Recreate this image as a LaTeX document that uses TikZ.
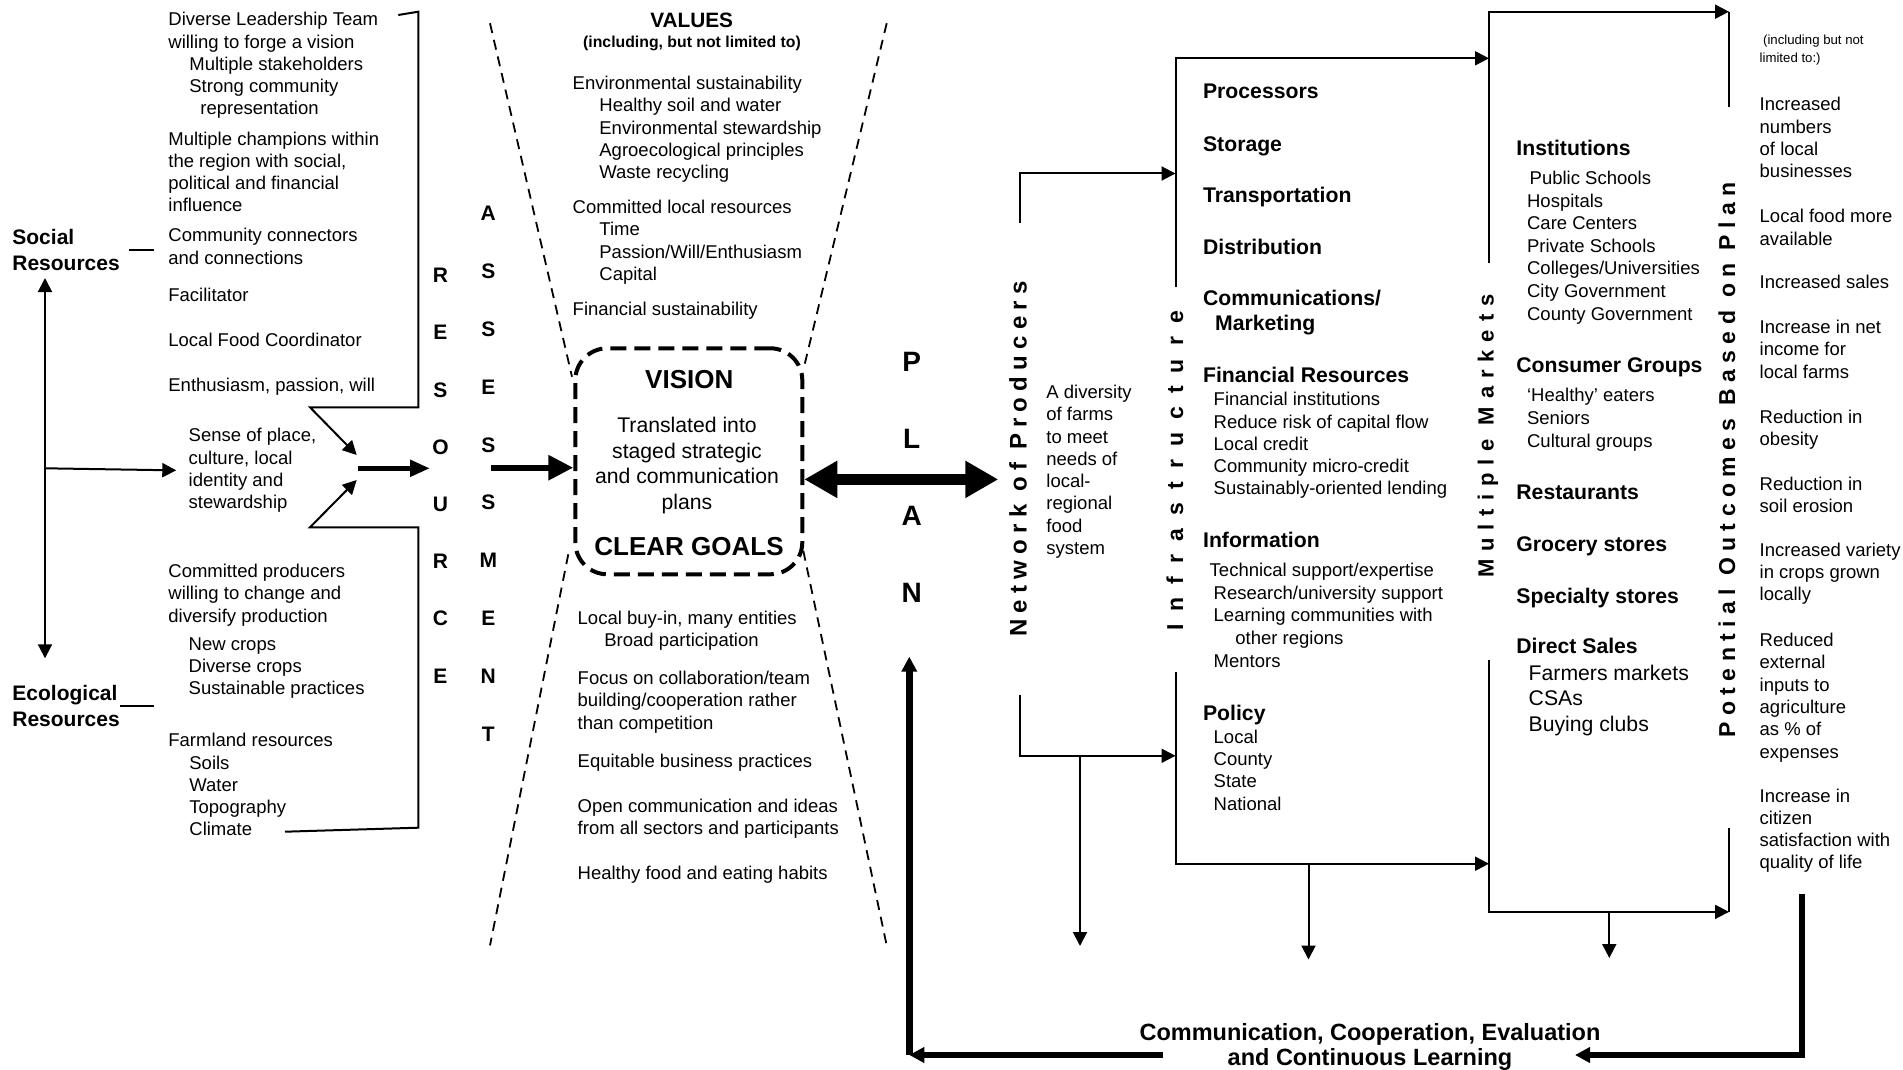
\documentclass[tikz,border=0pt]{standalone}
\usepackage{fontspec}
\setmainfont{Liberation Sans}
\usetikzlibrary{arrows.meta}

\begin{document}
\begin{tikzpicture}[x=0.5pt,y=-0.5pt,
  txt/.style={anchor=north west,inner sep=0pt,align=left,font=\fontsize{9.25}{11.15}\selectfont},
  hd/.style={txt,font=\bfseries\fontsize{10.6}{12.8}\selectfont},
  side/.style={txt,font=\bfseries\fontsize{10.5}{13}\selectfont},
  lett/.style={inner sep=0pt,font=\bfseries\fontsize{10.5}{12}\selectfont},
  vert/.style={rotate=90,inner sep=0pt},
  arr/.style={line width=1pt,-{Triangle[length=7pt,width=7pt]}},
  thickarr/.style={line width=2.8pt,-{Triangle[length=10pt,width=8pt]}},
  bigarr/.style={line width=3pt,-{Triangle[length=12.5pt,width=12pt]}},
  dblarr/.style={line width=5.5pt,{Triangle[length=16.5pt,width=17.5pt]}-{Triangle[length=16.5pt,width=17.5pt]}},
  fbarr/.style={line width=3.3pt,-{Triangle[length=7.5pt,width=7.5pt]}},
  funnel/.style={line width=0.9pt,dash pattern=on 5pt off 3.5pt},
  visbox/.style={draw,line width=2pt,dash pattern=on 8pt off 4pt,rounded corners=16pt,inner sep=0pt}]
\fill[white] (0,0) rectangle (1903,1070);
\useasboundingbox (0,0) rectangle (1903,1070);

% social and ecological resources
\node[side] (soc) at (12,228.6) {Social\\Resources};
\node[side] (eco) at (12,685.2) {Ecological\\Resources};
\draw[line width=1pt] ([xshift=4.5pt]soc.east) -- ++(25,0);
\draw[line width=1pt] (eco.east) -- ++(34,0);

\node[txt] (lead) at (168,11.9) {Diverse Leadership Team\\willing to forge a vision\\\hspace*{10.5pt}Multiple stakeholders\\\hspace*{10.5pt}Strong community\\\hspace*{16pt}representation};
\node[txt] (champ) at (168,131.2) {Multiple champions within\\the region with social,\\political and financial\\influence};
\node[txt] (conn) at (168,227.9) {Community connectors\\and connections};
\node[txt] (facil) at (168,287.2) {Facilitator};
\node[txt] (coord) at (168,332.9) {Local Food Coordinator};
\node[txt] (enth) at (168,377.9) {Enthusiasm, passion, will};
\node[txt] (sense) at (188.3,427.9) {Sense of place,\\culture, local\\identity and\\stewardship};
\node[txt] (prod) at (168,563.6) {Committed producers\\willing to change and\\diversify production};
\node[txt] (crops) at (188.3,637.2) {New crops\\Diverse crops\\Sustainable practices};
\node[txt] (farm) at (168,732.9) {Farmland resources\\\hspace*{10.5pt}Soils\\\hspace*{10.5pt}Water\\\hspace*{10.5pt}Topography\\\hspace*{10.5pt}Climate};

\coordinate (hub) at (45,468.3);
\coordinate (socTip) at (45,278);
\coordinate (ecoTip) at (45,658.3);
\draw[arr] (hub) -- (socTip);
\draw[arr] (hub) -- (ecoTip);
\draw[arr] (hub) -- ([xshift=-6pt]sense.west);

% bracket into the resource column
\coordinate (brA) at (398.3,15);
\coordinate (brB) at (418.3,11.7);
\coordinate (brC) at (418.3,407.3);
\coordinate (brD) at (310,407.3);
\coordinate (brE) at (356.7,455);
\coordinate (brF) at (285,831.7);
\coordinate (brG) at (418.3,827.7);
\coordinate (brH) at (418.3,527.3);
\coordinate (brI) at (310,527.3);
\coordinate (brJ) at (356.7,480);
\draw[arr] (brA) -- (brB) -- (brC) -- (brD) -- (brE);
\draw[arr] (brF) -- (brG) -- (brH) -- (brI) -- (brJ);
\coordinate (resIn) at (358.3,468.3);
\coordinate (resOut) at (430,468.3);
\draw[thickarr] (resIn) -- (resOut);

\foreach \l [count=\i from 0] in {R,E,S,O,U,R,C,E}
  \node[lett] (res\i) at (440.5,275.5+57.2*\i) {\l};
\foreach \l [count=\i from 0] in {A,S,S,E,S,S,M,E,N,T}
  \node[lett] (asm\i) at (488.3,213.6+57.8*\i) {\l};

% values funnel and vision
\node[inner sep=0pt,font=\bfseries\fontsize{10.4}{12}\selectfont] (values) at (691.7,20) {VALUES};
\node[inner sep=0pt,font=\bfseries\fontsize{7.9}{9}\selectfont] (incl) at (692,43.3) {(including, but not limited to)};
\node[txt] (env) at (572.3,75.6) {Environmental sustainability\\\hspace*{13.35pt}Healthy soil and water\\\hspace*{13.35pt}Environmental stewardship\\\hspace*{13.35pt}Agroecological principles\\\hspace*{13.35pt}Waste recycling};
\node[txt] (local) at (572.3,199.6) {Committed local resources\\\hspace*{13.35pt}Time\\\hspace*{13.35pt}Passion/Will/Enthusiasm\\\hspace*{13.35pt}Capital};
\node[txt] (finsus) at (572.3,301.2) {Financial sustainability};

\node[visbox,minimum width=113.5pt,minimum height=113pt] (vision) at (688.8,461.3) {};
\node[inner sep=0pt,font=\bfseries\fontsize{13}{14}\selectfont] (vishead) at (689.3,380) {VISION};
\node[anchor=north,inner sep=0pt,align=center,font=\fontsize{10.6}{12.7}\selectfont] (vistext) at (687,417.1) {Translated into\\staged strategic\\and communication\\plans};
\node[inner sep=0pt,font=\bfseries\fontsize{13}{14}\selectfont] (goals) at (689,546.3) {CLEAR GOALS};

\coordinate (fTL) at (490,23.3);
\coordinate (fL1) at (572,376.7);
\coordinate (fL2) at (568.3,554.3);
\coordinate (fBL) at (490,945.4);
\coordinate (fTR) at (886.7,23.3);
\coordinate (fR1) at (803.3,370);
\coordinate (fR2) at (803.3,550.8);
\coordinate (fBR) at (886.7,945.4);
\draw[funnel] (fTL) -- (fL1);
\draw[funnel] (fL2) -- (fBL);
\draw[funnel] (fTR) -- (fR1);
\draw[funnel] (fR2) -- (fBR);

\node[txt] (buyin) at (577.3,610.4) {Local buy-in, many entities\\\hspace*{13.35pt}Broad participation};
\node[txt] (focus) at (577.3,670.7) {Focus on collaboration/team\\building/cooperation rather\\than competition};
\node[txt] (equit) at (577.3,753.5) {Equitable business practices};
\node[txt] (open) at (577.3,798.7) {Open communication and ideas\\from all sectors and participants};
\node[txt] (food) at (577.3,865.7) {Healthy food and eating habits};

\coordinate (asmOut) at (490.7,467.7);
\draw[bigarr] (asmOut) -- (asmOut -| vision.west);

% plan
\foreach \l [count=\i from 0] in {P,L,A,N}
  \node[inner sep=0pt,font=\bfseries\fontsize{14}{16}\selectfont] (plan\i) at (911.7,362+77*\i) {\l};
\coordinate (dblR) at (998.3,479.4);
\draw[dblarr] (dblR -| vision.east) -- (dblR);

% network of producers
\node[vert,font=\bfseries\fontsize{12}{13}\selectfont\addfontfeature{LetterSpace=26}] (net) at (1018,459) {Network of Producers};
\node[txt] (farms) at (1046,384.6) {A diversity\\of farms\\to meet\\needs of\\local-\\regional\\food\\system};

% infrastructure
\node[vert,font=\bfseries\fontsize{11.5}{12}\selectfont\addfontfeature{LetterSpace=57}] (inf) at (1175,471) {Infrastructure};
\node[hd] (proc) at (1202.7,83.5) {Processors};
\node[hd] (stor) at (1202.7,135.8) {Storage};
\node[hd] (trans) at (1202.7,186.8) {Transportation};
\node[hd] (distr) at (1202.7,238.5) {Distribution};
\node[hd] (commk) at (1202.7,289.5) {Communications/\\\hspace*{6pt}Marketing};
\node[hd] (finres) at (1202.7,366.8) {Financial Resources};
\node[txt] (finitems) at (1213.3,391.9) {Financial institutions\\Reduce risk of capital flow\\Local credit\\Community micro-credit\\Sustainably-oriented lending};
\node[hd] (info) at (1202.7,532) {Information};
\node[txt,font=\fontsize{9.25}{11.4}\selectfont] (infoitems) at (1209.3,562.4) {Technical support/expertise\\\hspace*{2pt}Research/university support\\\hspace*{2pt}Learning communities with\\\hspace*{12.85pt}other regions\\\hspace*{2pt}Mentors};
\node[hd] (policy) at (1202.7,704.3) {Policy};
\node[txt] (politems) at (1213.3,729.5) {Local\\County\\State\\National};

% multiple markets
\node[vert,font=\bfseries\fontsize{11}{12}\selectfont\addfontfeature{LetterSpace=36}] (mkt) at (1488,436) {Multiple Markets};
\node[hd] (inst) at (1516,140.1) {Institutions};
\node[txt,font=\fontsize{9.25}{11.3}\selectfont] (institems) at (1526.7,170.6) {\hspace*{1.3pt}Public Schools\\Hospitals\\Care Centers\\Private Schools\\Colleges/Universities\\City Government\\County Government};
\node[hd] (cons) at (1516,357.5) {Consumer Groups};
\node[txt,font=\fontsize{9.25}{11.4}\selectfont] (consitems) at (1526.7,387.9) {‘Healthy’ eaters\\Seniors\\Cultural groups};
\node[hd] (rest) at (1516,485) {Restaurants};
\node[hd] (groc) at (1516,536.5) {Grocery stores};
\node[hd] (spec) at (1516,587.7) {Specialty stores};
\node[hd] (direct) at (1516,637.3) {Direct Sales};
\node[txt,font=\fontsize{10.6}{12.8}\selectfont] (directitems) at (1528.3,664.4) {Farmers markets\\CSAs\\Buying clubs};

% potential outcomes
\node[vert,font=\bfseries\fontsize{11.5}{12}\selectfont\addfontfeature{LetterSpace=28}] (pot) at (1727,460) {Potential Outcomes Based on Plan};
\node[txt,font=\fontsize{6.6}{9}\selectfont] (incl2) at (1759.3,34.2) {\hspace*{1.7pt}(including but not\\limited to:)};
\node[txt] (out1) at (1759.3,96.9) {Increased\\numbers\\of local\\businesses};
\node[txt] (out2) at (1759.3,208.9) {Local food more\\available};
\node[txt] (out3) at (1759.3,274.6) {Increased sales};
\node[txt] (out4) at (1759.3,319.6) {Increase in net\\income for\\local farms};
\node[txt] (out5) at (1759.3,409.6) {Reduction in\\obesity};
\node[txt] (out6) at (1759.3,476.2) {Reduction in\\soil erosion};
\node[txt] (out7) at (1759.3,542.5) {Increased variety\\in crops grown\\locally};
\node[txt] (out8) at (1759.3,632.8) {Reduced\\external\\inputs to\\agriculture\\as \% of\\expenses};
\node[txt] (out9) at (1759.3,788.2) {Increase in\\citizen\\satisfaction with\\quality of life};

% flow connectors
\coordinate (netTop) at (1020,223.3);
\coordinate (netHi) at (1020,173.5);
\coordinate (netBot) at (1020,695.2);
\coordinate (netLo) at (1020,755.8);
\coordinate (netDrop) at (1080,946);
\coordinate (infTop) at (1175.5,286.7);
\coordinate (infHi) at (1175.5,58.3);
\coordinate (infBot) at (1175.5,671.9);
\coordinate (infLo) at (1175.5,863.7);
\coordinate (infDrop) at (1308.5,959.5);
\coordinate (mktTop) at (1489,263.3);
\coordinate (mktHi) at (1489,11.7);
\coordinate (mktBot) at (1489,659.8);
\coordinate (mktLo) at (1489,911.9);
\coordinate (mktDrop) at (1609.3,958);
\coordinate (potTop) at (1729,106.7);
\coordinate (potBot) at (1729,828);

\draw[arr] (netTop) -- (netHi) -- (netHi -| infTop);
\draw[arr] (netBot) -- (netLo) -- (netLo -| infTop);
\draw[arr] (netDrop |- netLo) -- (netDrop);
\draw[arr] (infTop) -- (infHi) -- (infHi -| mktTop);
\draw[arr] (infBot) -- (infLo) -- (infLo -| mktTop);
\draw[arr] (infDrop |- infLo) -- (infDrop);
\draw[arr] (mktTop) -- (mktHi) -- (mktHi -| potTop);
\draw[line width=1pt] (mktHi -| potTop) -- (potTop);
\draw[arr] (mktBot) -- (mktLo) -- (mktLo -| potTop);
\draw[line width=1pt] (potBot) -- (mktLo -| potTop);
\draw[arr] (mktDrop |- mktLo) -- (mktDrop);

% feedback loop
\node[anchor=north,inner sep=0pt,align=center,font=\bfseries\fontsize{11.75}{12.8}\selectfont] (fbtext) at (1370,1022.6) {Communication, Cooperation, Evaluation\\and Continuous Learning};
\coordinate (fbTop) at (1802,894);
\coordinate (fbCorner) at (1802,1055);
\coordinate (fbEnd) at (1575,1055);
\coordinate (fbStart) at (1162.6,1055);
\coordinate (fbLeft) at (909.3,1055);
\coordinate (fbUp) at (909.3,656.7);
\draw[fbarr] (fbTop) -- (fbCorner) -- (fbEnd);
\draw[fbarr] (fbStart) -- (fbLeft);
\draw[fbarr] (fbLeft) -- (fbUp);
\end{tikzpicture}
\end{document}
